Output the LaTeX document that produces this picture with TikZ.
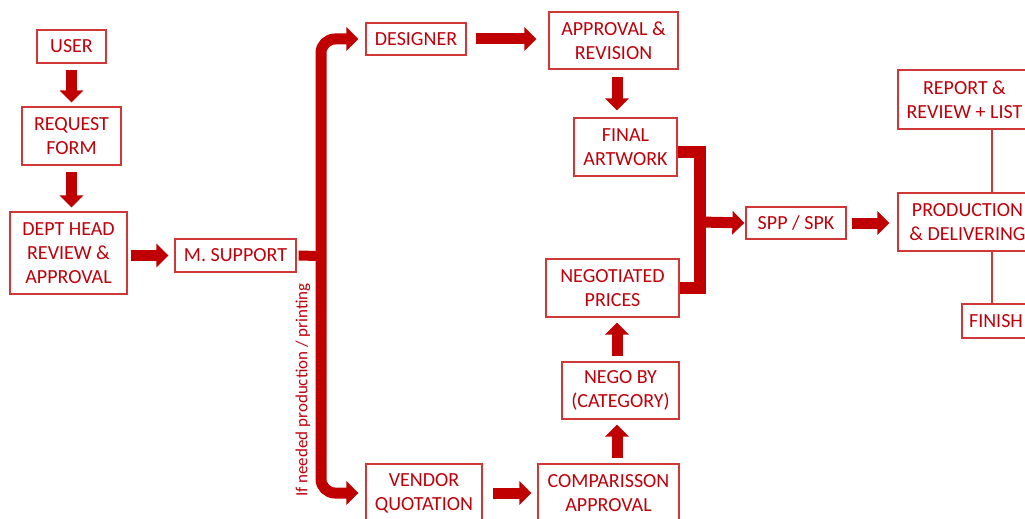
\documentclass[tikz,border=0pt]{standalone}
\usepackage{fontspec}
\setmainfont{Carlito}
\usepackage{tikz}
\usetikzlibrary{arrows.meta, positioning}
\definecolor{arrowred}{RGB}{192, 0, 0}
\definecolor{textred}{RGB}{190, 0, 10}
\definecolor{boxred}{RGB}{208, 56, 56}
\newcommand{\stagefont}{\fontsize{20}{24}\selectfont}
\newcommand{\notefont}{\fontsize{17}{20}\selectfont}

\begin{document}
\begin{tikzpicture}[x=1pt, y=-1pt,
		stage/.style={draw=boxred, line width=1.2pt, text=textred, font=\stagefont, align=center, inner sep=2pt},
		flow/.style={draw=arrowred, line width=11pt, -{Triangle[width=23pt, length=12pt]}, shorten <=5pt, shorten >=5pt},
		bar/.style={draw=arrowred, line width=11pt},
		link/.style={draw=boxred, line width=1.2pt},
		note/.style={text=textred, font=\notefont, inner sep=0pt}]
		\useasboundingbox (0,0) rectangle (1025,519);
		\clip (0,0) rectangle (1025,519);
		% left column
		\node [stage, minimum width=69pt, minimum height=33pt] (user) at (71.5,46.5) {USER};
		\node [stage, minimum width=99pt, minimum height=58pt] (form) at (71.5,136) {REQUEST\\FORM};
		\node [stage, minimum width=117pt, minimum height=82pt] (head) at (68.5,253) {DEPT HEAD\\REVIEW \&\\APPROVAL};
		\node [stage, minimum width=121pt, minimum height=33pt] (support) at (235.5,255.5) {M. SUPPORT};
		% design branch and vendor branch
		\node [stage, minimum width=100pt, minimum height=32pt] (designer) at (416,39) {DESIGNER};
		\node [stage, minimum width=116pt, minimum height=58pt] (vendor) at (424,493) {VENDOR\\QUOTATION};
		\node [stage, minimum width=129pt, minimum height=57pt] (approval) at (613.5,40.5) {APPROVAL \&\\REVISION};
		\node [stage, minimum width=103pt, minimum height=58pt] (final) at (625.5,147) {FINAL\\ARTWORK};
		\node [stage, minimum width=133pt, minimum height=58pt] (negotiated) at (612.5,288) {NEGOTIATED\\PRICES};
		\node [stage, minimum width=117pt, minimum height=57pt] (nego) at (620.5,390.5) {NEGO BY\\(CATEGORY)};
		\node [stage, minimum width=141pt, minimum height=58pt] (compare) at (608.5,493) {COMPARISSON\\APPROVAL};
		% right part
		\node [stage, minimum width=100pt, minimum height=32pt] (spp) at (796,223) {SPP / SPK};
		\node [stage, minimum width=139pt, minimum height=58pt] (production) at (967.5,222) {PRODUCTION\\\& DELIVERING};
		\node [stage, minimum width=133pt, minimum height=59pt] (report) at (964.5,99.5) {REPORT \&\\REVIEW + LIST};
		\node [stage, minimum width=68pt, minimum height=34pt] (finish) at (996,321) {FINISH};
		\node [note, rotate=90] (condition) at (303,390) {If needed production / printing};
		\coordinate (fork) at (321,256);
		\coordinate (midline) at (617,0);
		\coordinate (join) at (700,222);
		\coordinate (stem) at (992,0);
		% arrows
		\draw [flow, shorten <=6pt, shorten >=4pt] (user) -- (form);
		\draw [flow, shorten <=6pt, shorten >=4pt] (form.south) -- (form.south |- head.north);
		\draw [flow, shorten <=3pt, shorten >=6pt] (head.east |- support.west) -- (support.west);
		\draw [bar, line width=10pt, shorten <=2pt] (support.east) -- (fork);
		\draw [flow, rounded corners=14pt, shorten <=0pt, shorten >=7pt] (fork) |- (designer.west);
		\draw [flow, rounded corners=14pt, shorten <=0pt, shorten >=7pt] (fork) |- (vendor.west);
		\draw [flow, shorten <=9pt, shorten >=12pt] (designer.east) -- (designer.east -| approval.west);
		\draw [flow, shorten <=7pt, shorten >=7pt] (approval.south -| midline) -- (final.north -| midline);
		\draw [flow, shorten <=10pt, shorten >=6pt] (vendor.east) -- (vendor.east -| compare.west);
		\draw [flow] (compare.north -| midline) -- (nego.south -| midline);
		\draw [flow] (nego.north -| midline) -- (negotiated.south -| midline);
		\draw [bar, line width=12pt] ([yshift=-5pt]final.east) -| (join) |- (negotiated.east);
		\draw [flow, shorten <=0pt, shorten >=1pt] (join) -- (spp.west);
		\draw [flow, shorten >=8pt] (spp.east) -- (spp.east -| production.west);
		\draw [link] (report.south -| stem) -- (production.north -| stem);
		\draw [link] (production.south -| stem) -- (finish.north -| stem);
	\end{tikzpicture}
\end{document}
